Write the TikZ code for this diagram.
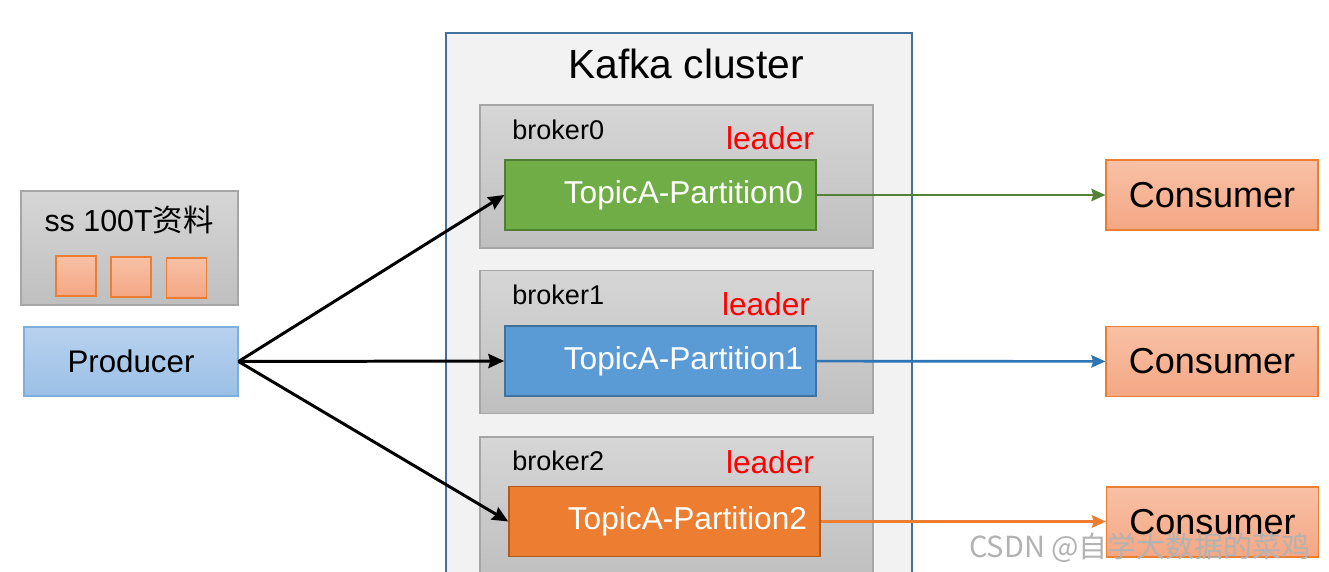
\documentclass[tikz,border=0pt]{standalone}
\usepackage{fontspec}
\setmainfont{Liberation Sans}
\newfontfamily\cjk{Noto Sans CJK SC}
\usetikzlibrary{arrows.meta}
\definecolor{clusterline}{HTML}{41719C}
\definecolor{clusterbg}{HTML}{F2F2F2}
\definecolor{brokerline}{HTML}{A6A6A6}
\definecolor{brokertop}{HTML}{D6D6D6}
\definecolor{brokerbot}{HTML}{BFBFBF}
\definecolor{pgreen}{HTML}{70AD47}
\definecolor{pgreenline}{HTML}{507E32}
\definecolor{pblue}{HTML}{5B9BD5}
\definecolor{pblueline}{HTML}{41719C}
\definecolor{porange}{HTML}{ED7D31}
\definecolor{porangeline}{HTML}{AE5A21}
\definecolor{constop}{HTML}{F8C1A6}
\definecolor{consbot}{HTML}{F4A784}
\definecolor{prodtop}{HTML}{B8D1EE}
\definecolor{prodbot}{HTML}{9BC0E6}
\definecolor{prodline}{HTML}{7DAEE0}
\definecolor{greenarrow}{HTML}{538135}
\definecolor{bluearrow}{HTML}{2E75B6}
\definecolor{orangearrow}{HTML}{ED7D31}
\begin{document}
\begin{tikzpicture}[
  box/.style={rectangle, inner sep=0pt, line width=0.6pt},
  cluster/.style={box, draw=clusterline, fill=clusterbg, line width=0.9pt,
                  minimum width=9.32cm, minimum height=11.4cm},
  broker/.style={box, draw=brokerline, top color=brokertop, bottom color=brokerbot,
                 minimum width=7.86cm, minimum height=2.86cm},
  part/.style={box, line width=0.9pt, text=white, minimum height=1.4cm,
               text width=5.7cm, align=right, inner xsep=0.26cm,
               font=\fontsize{18}{20}\selectfont},
  cons/.style={box, draw=porange, top color=constop, bottom color=consbot,
               minimum width=4.24cm, minimum height=1.4cm,
               font=\fontsize{20.5}{24}\selectfont},
  chunk/.style={box, draw=porange, top color=constop, bottom color=consbot,
                minimum size=0.8cm},
  lbl/.style={inner sep=0pt},
  send/.style={-{Stealth[length=9pt, width=8pt, inset=1pt]}, line width=1.7pt, draw=black},
  pull/.style={-{Stealth[length=8pt, width=7pt, inset=1pt]}, line width=1.5pt}
]
\clip (0,0) rectangle (26.58,-11.44);

\node[cluster] (kc) at (13.58,-6.36) {};
\node[lbl, font=\fontsize{23.2}{27}\selectfont] (kct) at (13.72,-1.28) {Kafka cluster};

\node[broker] (b0) at (13.53,-3.53) {};
\node[broker] (b1) at (13.53,-6.84) {};
\node[broker] (b2) at (13.53,-10.17) {};

\node[lbl, anchor=west, font=\fontsize{15.4}{18}\selectfont] (b0t) at (10.24,-2.6) {broker0};
\node[lbl, anchor=west, font=\fontsize{15.4}{18}\selectfont] (b1t) at (10.24,-5.9) {broker1};
\node[lbl, anchor=west, font=\fontsize{15.4}{18}\selectfont] (b2t) at (10.24,-9.22) {broker2};

\node[lbl, text=red, font=\fontsize{18}{21}\selectfont] (l0) at (15.4,-2.76) {leader};
\node[lbl, text=red, font=\fontsize{18}{21}\selectfont] (l1) at (15.32,-6.08) {leader};
\node[lbl, text=red, font=\fontsize{18}{21}\selectfont] (l2) at (15.4,-9.24) {leader};

\node[part, draw=pgreenline, fill=pgreen] (p0) at (13.21,-3.9) {TopicA-Partition0};
\node[part, draw=pblueline, fill=pblue] (p1) at (13.21,-7.22) {TopicA-Partition1};
\node[part, draw=porangeline, fill=porange] (p2) at (13.29,-10.43) {TopicA-Partition2};

\node[cons] (c0) at (24.24,-3.9) {Consumer};
\node[cons] (c1) at (24.24,-7.23) {Consumer};
\node[cons] (c2) at (24.25,-10.44) {Consumer};

\node[box, draw=brokerline, top color=brokertop, bottom color=brokerbot,
      minimum width=4.34cm, minimum height=2.28cm] (store) at (2.59,-4.96) {};
\node[lbl, font=\fontsize{17.3}{20}\selectfont] (storet) at (2.58,-4.4) {ss 100T{\cjk 资料}};
\node[chunk] (k0) at (1.52,-5.52) {};
\node[chunk] (k1) at (2.62,-5.54) {};
\node[chunk] (k2) at (3.73,-5.56) {};

\node[box, draw=prodline, top color=prodtop, bottom color=prodbot,
      minimum width=4.28cm, minimum height=1.38cm,
      font=\fontsize{17.8}{21}\selectfont] (prod) at (2.62,-7.23) {Producer};

\draw[send] (prod.east) -- (p0.west);
\draw[send] (prod.east) -- (p1.west);
\draw[send] (prod.east) -- (p2.west);

\draw[pull, draw=greenarrow, fill=greenarrow] (p0) -- (c0);
\draw[pull, draw=bluearrow, fill=bluearrow] (p1) -- (c1);
\draw[pull, draw=orangearrow, fill=orangearrow] (p2.east) -- (c2.west |- p2.east);

\node[lbl, text=black!30, font=\cjk\fontsize{16.5}{19}\selectfont] (wm) at (22.8,-10.96) {CSDN @自学大数据的菜鸡};
\end{tikzpicture}
\end{document}
